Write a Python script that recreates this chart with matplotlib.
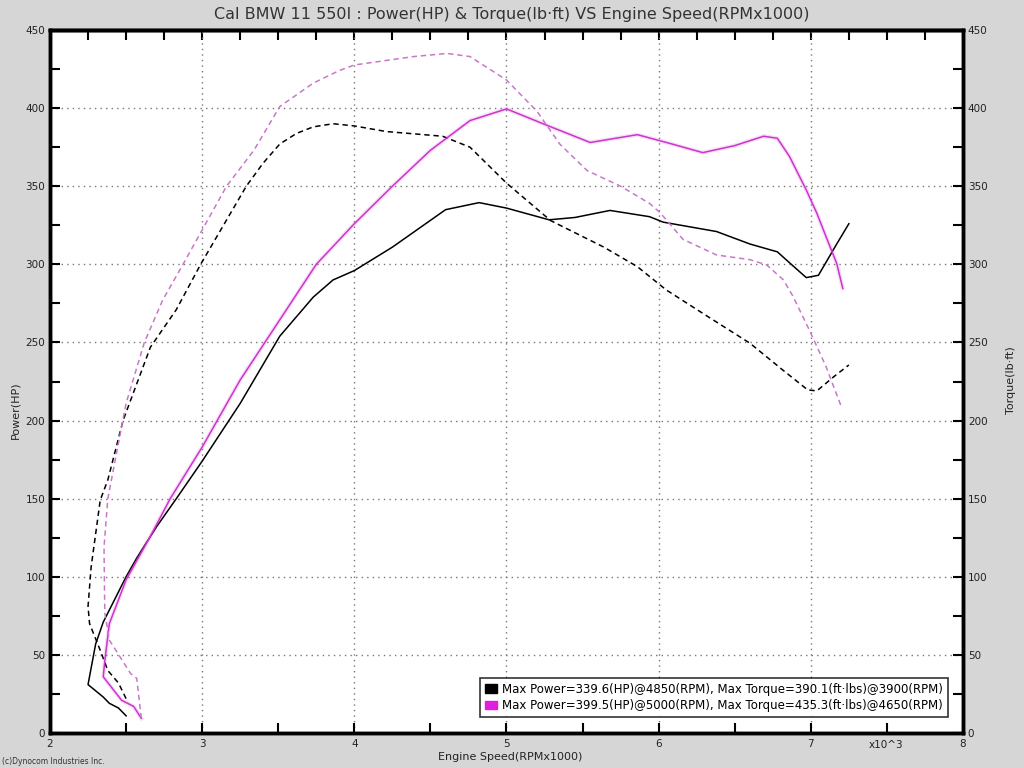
import matplotlib.pyplot as plt
from matplotlib.patches import Patch
from matplotlib.ticker import MultipleLocator

# Engine speed (RPM x1000) and power (HP) - black run
rpm_pw_k = [2.50, 2.45, 2.39, 2.35, 2.25, 2.30, 2.35, 2.50, 2.57, 2.70, 2.83, 3.00, 3.25,
            3.51, 3.73, 3.86, 4.00, 4.25, 4.60, 4.82, 5.00, 5.28, 5.45, 5.68, 5.94, 6.03,
            6.38, 6.60, 6.78, 6.86, 6.97, 7.05, 7.17, 7.25]
pw_k = [11, 16, 19, 23, 31, 57, 71, 100, 112, 132, 150, 174, 211,
        254, 279, 290, 296, 311, 335, 339.5, 336, 328.5, 330, 334.5, 330.5, 327,
        321, 313, 308, 301, 291.5, 293, 313, 326]

# Torque (lb-ft) - black run
rpm_tq_k = [2.50, 2.45, 2.38, 2.33, 2.26, 2.25, 2.27, 2.33, 2.38, 2.48, 2.66, 2.83, 2.99,
            3.29, 3.40, 3.51, 3.62, 3.73, 3.86, 4.00, 4.21, 4.58, 4.76, 5.00, 5.29, 5.64,
            5.86, 6.05, 6.30, 6.60, 6.82, 6.98, 7.04, 7.15, 7.25]
tq_k = [22, 32, 40, 53, 70, 81, 106, 149, 162, 200, 247, 271, 300,
        350, 364.7, 377, 383.8, 388, 390, 388.6, 385, 382, 375, 352, 328, 311,
        298.5, 283.6, 268, 249.5, 232, 219.6, 219, 228, 235.6]

# Power (HP) - magenta run
rpm_pw_m = [2.60, 2.55, 2.47, 2.35, 2.36, 2.39, 2.50, 2.66, 2.79, 3.00, 3.25, 3.50, 3.75,
            4.00, 4.25, 4.50, 4.76, 5.00, 5.24, 5.55, 5.86, 6.07, 6.29, 6.50, 6.69, 6.78,
            6.86, 6.97, 7.04, 7.10, 7.17, 7.21]
pw_m = [9.4, 17, 21, 36, 46, 70, 98, 126, 150, 183, 226, 263, 300,
        326, 350, 373, 392, 399.5, 390, 378, 383, 377.5, 371.5, 376, 382, 380.7,
        369, 347.6, 332.6, 317.7, 300.6, 284.6]

# Torque (lb-ft) - magenta run
rpm_tq_m = [2.60, 2.57, 2.53, 2.39, 2.36, 2.355, 2.38, 2.50, 2.62, 2.74, 2.88, 3.16, 3.34,
            3.51, 3.73, 3.90, 4.00, 4.39, 4.61, 4.76, 5.00, 5.20, 5.35, 5.53, 5.75, 5.94,
            6.01, 6.16, 6.38, 6.60, 6.71, 6.82, 6.88, 6.99, 7.10, 7.20]
tq_m = [9.4, 35, 38, 59.5, 77, 119, 150, 211, 250, 277, 301, 350, 373,
        401, 416, 424, 427.6, 433, 435, 433, 418, 398, 377, 360, 350, 339,
        333, 316, 306, 303, 299.6, 290, 280, 258, 234.5, 209]

legend_labels = [
    "Max Power=339.6(HP)@4850(RPM), Max Torque=390.1(ft\u00b7lbs)@3900(RPM)",
    "Max Power=399.5(HP)@5000(RPM), Max Torque=435.3(ft\u00b7lbs)@4650(RPM)",
]

bg = "#d6d6d6"
magenta = "#cc34cc"

fig = plt.figure(figsize=(10.24, 7.68), dpi=100, facecolor=bg)
ax = fig.add_axes([50 / 1024, 1 - 733 / 768, 913 / 1024, 703 / 768])
ax.set_facecolor("white")

# curves
ax.plot(rpm_pw_k, pw_k, color="black", lw=1.1)
ax.plot(rpm_tq_k, tq_k, color="black", lw=1.1, ls=(0, (3.5, 2.5)))
ax.plot(rpm_pw_m, pw_m, color=magenta, lw=3.0, alpha=0.15)
ax.plot(rpm_pw_m, pw_m, color=magenta, lw=1.1)
ax.plot(rpm_tq_m, tq_m, color="#c878c8", lw=1.1, ls=(0, (3.5, 2.5)))

ax.set_xlim(2, 8)
ax.set_ylim(0, 450)

# grid and ticks
ax.xaxis.set_major_locator(MultipleLocator(1))
ax.xaxis.set_minor_locator(MultipleLocator(0.5))
ax.yaxis.set_major_locator(MultipleLocator(50))
ax.yaxis.set_minor_locator(MultipleLocator(25))
ax.grid(True, which="major", color="#777777", ls=(0, (1, 3)), lw=1.0)
ax.tick_params(which="both", direction="in", length=7, width=1.5, labelsize=7.5,
               colors="black", labelcolor="#222222")
ax.tick_params(axis="x", pad=4)
ax.set_xticks([2, 3, 4, 5, 6, 7, 8])
ax.set_xticklabels(["2", "3", "4", "5", "6", "7", "8"])
for s in ax.spines.values():
    s.set_linewidth(2.5)

top = ax.secondary_xaxis("top")
top.xaxis.set_major_locator(MultipleLocator(0.25))
top.tick_params(direction="in", length=7, width=1.5, labeltop=False)
top.spines["top"].set_linewidth(2.5)

right = ax.twinx()
right.set_ylim(0, 450)
right.yaxis.set_major_locator(MultipleLocator(50))
right.yaxis.set_minor_locator(MultipleLocator(25))
right.tick_params(which="both", direction="in", length=7, width=1.5, labelsize=7.5,
                  labelcolor="#222222")
for s in right.spines.values():
    s.set_linewidth(2.5)

# labels
fig.text(512 / 1024, 1 - 15 / 768, "Cal BMW 11 550I : Power(HP) & Torque(lb\u00b7ft) VS Engine Speed(RPMx1000)",
         ha="center", va="center", fontsize=11.5, color="#333333")
fig.text(15 / 1024, 1 - 410 / 768, "Power(HP)", rotation=90, ha="center", va="center",
         fontsize=8, color="#222222")
fig.text(1011 / 1024, 1 - 380 / 768, "Torque(lb\u00b7ft)", rotation=90, ha="center", va="center",
         fontsize=8, color="#222222")
fig.text(510 / 1024, 1 - 757 / 768, "Engine Speed(RPMx1000)", ha="center", va="center",
         fontsize=8, color="#222222")
fig.text(886 / 1024, 1 - 745 / 768, "x10^3", ha="center", va="center",
         fontsize=7.5, color="#222222")
fig.text(2 / 1024, 1 - 762 / 768, "(c)Dynocom Industries Inc.", ha="left", va="center",
         fontsize=5.5, color="#333333")

handles = [Patch(facecolor="black", edgecolor="black"),
           Patch(facecolor="#e01ee0", edgecolor="#e01ee0")]
leg = ax.legend(handles, legend_labels, loc="lower right", bbox_to_anchor=(898 / 913, 16 / 703),
                fontsize=8.5, frameon=True, fancybox=False, handlelength=1.0, handleheight=0.7,
                handletextpad=0.5, borderpad=0.4, labelspacing=0.3, borderaxespad=0)
leg.get_frame().set_edgecolor("black")
leg.get_frame().set_linewidth(1.2)
leg.set_zorder(5)

fig.savefig("out.png", dpi=100, facecolor=bg)
